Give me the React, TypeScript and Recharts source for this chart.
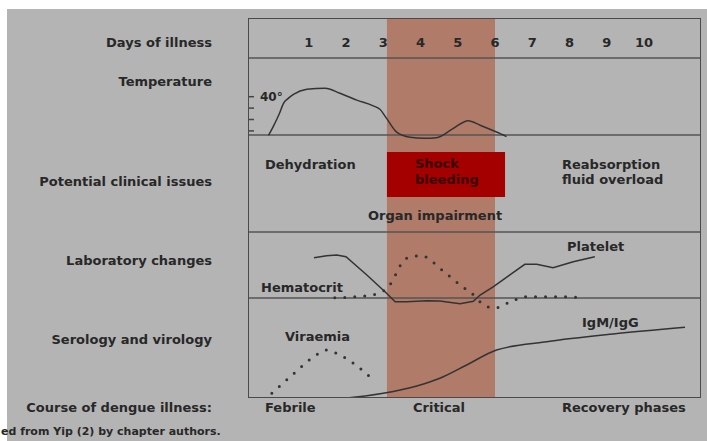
import { ComposedChart, Line, XAxis, YAxis, ReferenceArea, ReferenceLine } from 'recharts';

// days of illness shown in the header row
const days = [1, 2, 3, 4, 5, 6, 7, 8, 9, 10];
const criticalPhase = [3.1, 6.0];

// temperature (°C)
const tempDays = [-0.08, 0.05, 0.14, 0.21, 0.32, 0.45, 0.59, 0.95, 1.44, 1.84, 2.29, 2.73, 2.91, 3.09, 3.36, 3.72, 4.1, 4.43, 4.87, 5.28, 5.6, 6.04, 6.31];
const tempValues = [36.6, 37.4, 38.0, 38.5, 39.4, 39.85, 40.2, 40.65, 40.75, 40.3, 39.7, 39.2, 38.9, 38.1, 36.9, 36.45, 36.35, 36.4, 37.2, 37.9, 37.5, 36.9, 36.5];
const tempTicks = [37, 38, 39, 40];

// laboratory changes (relative level, 0-100)
const plateletDays = [1.14, 1.48, 1.75, 2.0, 2.56, 3.09, 3.32, 3.63, 4.17, 4.52, 5.06, 5.42, 5.6, 5.95, 6.4, 6.8, 7.12, 7.56, 8.1, 8.68];
const plateletValues = [61, 64, 65, 62.6, 34.8, 7.1, -5.6, -5.6, -4.1, -4.5, -8.6, -5, 4.5, 17, 35, 51, 51, 46, 55, 62.6];
const hematocritDays = [1.7, 2.29, 2.78, 3.07, 3.27, 3.38, 3.54, 3.72, 4.03, 4.21, 4.48, 4.61, 4.95, 5.28, 5.48, 5.64, 6.0, 6.27, 6.48, 6.67, 6.94, 7.88, 8.31];
const hematocritValues = [0.5, 2, 5.6, 13.6, 28, 41, 56, 62, 64, 60, 47, 41, 25, 10.6, 2, -8, -15.6, -9, -5.6, 1, 2, 2, 0.5];

// serology and virology (relative level, 0-100)
const viraemiaDays = [0.01, 0.59, 1.2, 1.48, 1.75, 2.24, 2.78];
const viraemiaValues = [4.7, 24, 43, 48, 44.7, 33.7, 16.3];
const igDays = [1.7, 3.0, 3.9, 4.52, 5.24, 6.04, 7.39, 9.17, 11.1];
const igValues = [-1.3, 4.7, 12, 19.7, 33, 48, 56.3, 64, 70.7];

// clinical issue box (days)
const shockDays = [3.1, 6.27];

const toPoints = (xs: number[], ys: number[]) => xs.map((day, i) => ({ day, value: ys[i] }));

// plot geometry
const W = 707;
const H = 441;
const PLOT_LEFT = 248;
const PLOT_TOP = 18;
const PLOT_RIGHT = 701;
const PLOT_BOTTOM = 398;
const X_DOMAIN = [-0.63, 11.53];

// each panel gets its own y scale, stretched over the full plot height
const spanDomain = (refValue: number, refY: number, pxPerUnit: number) => [
  refValue - (PLOT_BOTTOM - refY) / pxPerUnit,
  refValue + (refY - PLOT_TOP) / pxPerUnit,
];
const tempDomain = spanDomain(40, 96.7, 11.4);
const labDomain = spanDomain(0, 298, 0.66);
const seroDomain = spanDomain(0, 398, 1);

// row dividers, px from box top
const rows = [40, 117, 214, 280];
const shockRows = [134, 179];

const FONT = '"DejaVu Sans", sans-serif';
const INK = '#282828';

const Txt = ({ x, y, children, color = INK, size = 13 }: any) => (
  <div
    style={{
      position: 'absolute',
      left: x,
      top: y - 8,
      lineHeight: '16px',
      fontSize: size,
      fontWeight: 'bold',
      color,
      whiteSpace: 'nowrap',
    }}
  >
    {children}
  </div>
);

const Side = ({ y, children }: any) => (
  <div
    style={{
      position: 'absolute',
      left: 0,
      width: 212,
      top: y - 8,
      lineHeight: '16px',
      fontSize: 13,
      fontWeight: 'bold',
      color: INK,
      textAlign: 'right',
      whiteSpace: 'nowrap',
    }}
  >
    {children}
  </div>
);

export default function App() {
  const lineProps = { dataKey: 'value', dot: false, activeDot: false, isAnimationActive: false, stroke: '#333' };
  const dotted = { strokeWidth: 3, strokeDasharray: '0 10', strokeLinecap: 'round' as const };

  return (
    <div style={{ position: 'absolute', left: 0, top: 0, width: W, height: H, background: '#fff', overflow: 'hidden', fontFamily: FONT }}>
      <div style={{ position: 'absolute', left: 7, top: 9, right: 0, bottom: 0, background: '#b4b4b4' }} />
      <div style={{ position: 'absolute', left: 0, top: 0 }}>
        <ComposedChart
          width={W}
          height={H}
          margin={{ top: PLOT_TOP, left: PLOT_LEFT, right: W - PLOT_RIGHT, bottom: H - PLOT_BOTTOM }}
        >
          <XAxis
            type="number"
            dataKey="day"
            orientation="top"
            mirror
            domain={X_DOMAIN}
            allowDataOverflow
            ticks={days}
            interval={0}
            axisLine={false}
            tickLine={false}
            tickSize={0}
            tickMargin={20}
            tick={{ fontSize: 13, fontWeight: 'bold', fill: INK, fontFamily: FONT }}
          />
          <YAxis yAxisId="frame" hide type="number" domain={[0, PLOT_BOTTOM - PLOT_TOP]} reversed allowDataOverflow />
          <YAxis
            yAxisId="temp"
            type="number"
            orientation="left"
            mirror
            domain={tempDomain}
            allowDataOverflow
            ticks={tempTicks}
            interval={0}
            axisLine={false}
            tickSize={6}
            tickMargin={6}
            tickLine={{ stroke: '#444', strokeWidth: 1.5 }}
            tickFormatter={(v: number) => (v === 40 ? '40°' : '')}
            tick={{ fontSize: 12, fontWeight: 'bold', fill: INK, fontFamily: FONT }}
          />
          <YAxis yAxisId="lab" hide type="number" domain={labDomain} allowDataOverflow />
          <YAxis yAxisId="sero" hide type="number" domain={seroDomain} allowDataOverflow />

          <ReferenceArea
            yAxisId="frame"
            x1={criticalPhase[0]}
            x2={criticalPhase[1]}
            y1={0}
            y2={PLOT_BOTTOM - PLOT_TOP}
            fill="#b07b69"
            fillOpacity={1}
            stroke="none"
          />
          <ReferenceArea
            yAxisId="frame"
            x1={shockDays[0]}
            x2={shockDays[1]}
            y1={shockRows[0]}
            y2={shockRows[1]}
            fill="#a50000"
            fillOpacity={1}
            stroke="none"
          />
          {rows.map((r) => (
            <ReferenceLine key={r} yAxisId="frame" y={r} stroke="#555" strokeWidth={1.5} />
          ))}

          <Line yAxisId="temp" data={toPoints(tempDays, tempValues)} type="monotone" strokeWidth={1.5} {...lineProps} />
          <Line yAxisId="lab" data={toPoints(plateletDays, plateletValues)} type="linear" strokeWidth={1.5} {...lineProps} />
          <Line yAxisId="lab" data={toPoints(hematocritDays, hematocritValues)} type="monotone" {...dotted} {...lineProps} />
          <Line yAxisId="sero" data={toPoints(viraemiaDays, viraemiaValues)} type="monotone" {...dotted} {...lineProps} />
          <Line yAxisId="sero" data={toPoints(igDays, igValues)} type="monotone" strokeWidth={1.5} {...lineProps} />
        </ComposedChart>
      </div>

      <div
        style={{
          position: 'absolute',
          left: PLOT_LEFT,
          top: PLOT_TOP,
          width: PLOT_RIGHT - PLOT_LEFT,
          height: PLOT_BOTTOM - PLOT_TOP,
          border: '1.5px solid #4a4a4a',
          boxSizing: 'border-box',
          pointerEvents: 'none',
        }}
      />

      <Side y={43}>Days of illness</Side>
      <Side y={82}>Temperature</Side>
      <Side y={182}>Potential clinical issues</Side>
      <Side y={261}>Laboratory changes</Side>
      <Side y={340}>Serology and virology</Side>
      <Side y={408}>Course of dengue illness:</Side>

      <Txt x={265} y={165}>Dehydration</Txt>
      <Txt x={415} y={164} color="#3a0000">Shock</Txt>
      <Txt x={415} y={180} color="#3a0000">bleeding</Txt>
      <Txt x={562} y={165}>Reabsorption</Txt>
      <Txt x={562} y={180}>fluid overload</Txt>
      <Txt x={368} y={216}>Organ impairment</Txt>
      <Txt x={261} y={288}>Hematocrit</Txt>
      <Txt x={567} y={247}>Platelet</Txt>
      <Txt x={285} y={337}>Viraemia</Txt>
      <Txt x={582} y={323}>IgM/IgG</Txt>
      <Txt x={265} y={408}>Febrile</Txt>
      <Txt x={413} y={408}>Critical</Txt>
      <Txt x={562} y={408}>Recovery phases</Txt>
      <Txt x={1} y={432} size={11}>ed from Yip (2) by chapter authors.</Txt>
    </div>
  );
}
